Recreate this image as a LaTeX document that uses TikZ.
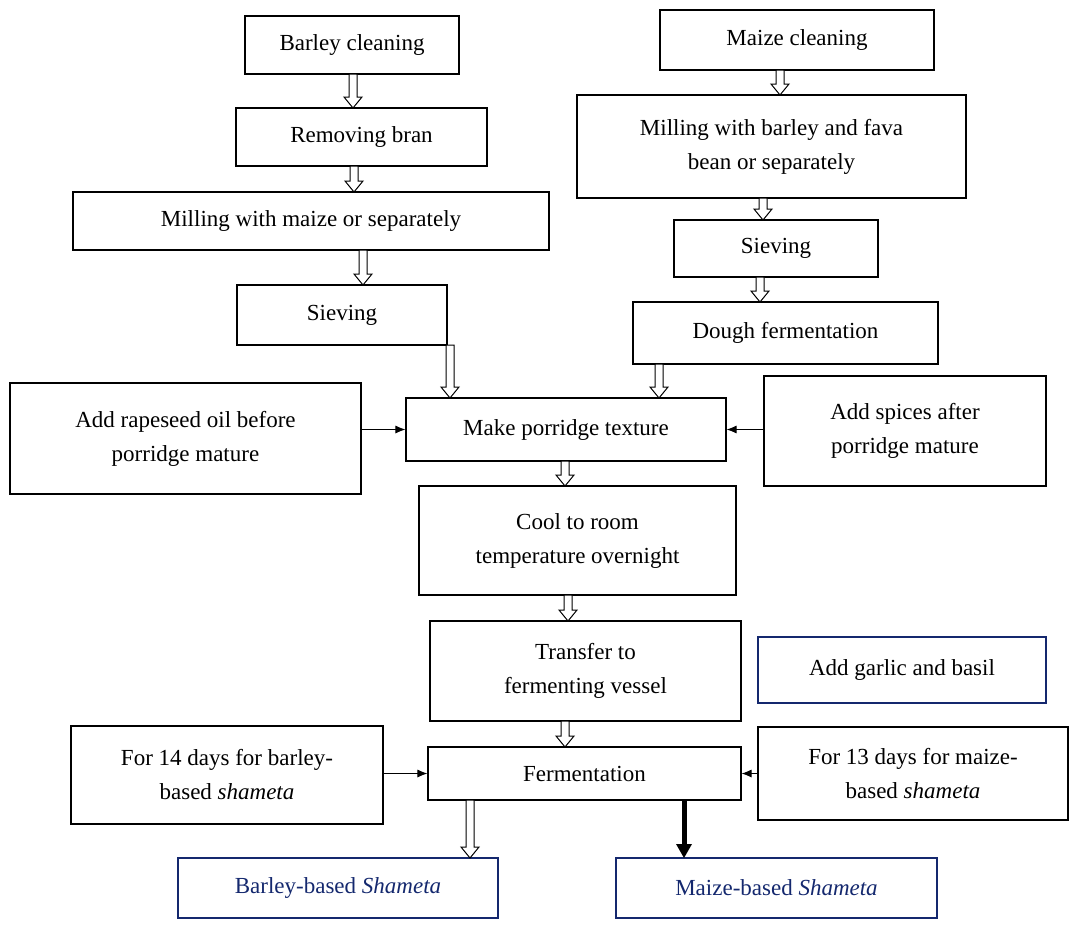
\documentclass[tikz,border=0pt]{standalone}
\usepackage{fontspec}
\usetikzlibrary{arrows.meta}
\setmainfont{Liberation Serif}
\definecolor{navy}{RGB}{20,40,110}
\begin{document}
\begin{tikzpicture}[x=1pt,y=-1pt,
 box/.style={draw,line width=1.1pt,align=center,font=\fontsize{23}{34}\selectfont},
 nbox/.style={box,draw=navy,line width=1.5pt},
 sa/.style={-{Latex[length=10pt,width=8pt]},line width=1pt}]
\useasboundingbox (0,0) rectangle (1087,943);
\newcommand\mybx[6]{\node[#6,minimum width=#3-#1,minimum height=#4-#2] (#5) at ({(#1+#3)/2},{(#2+#4)/2})}
\mybx{245}{16}{459}{74}{bc}{box}{Barley cleaning};
\mybx{236}{108}{487}{166}{rb}{box}{Removing bran};
\mybx{73}{192}{549}{250}{mm}{box}{Milling with maize or separately};
\mybx{237}{285}{447}{345}{sl}{box}{Sieving};
\mybx{660}{10}{934}{70}{mc}{box}{Maize cleaning};
\mybx{577}{95}{966}{198}{mb}{box}{Milling with barley and fava\\bean or separately};
\mybx{674}{220}{878}{277}{sr}{box}{Sieving};
\mybx{633}{302}{938}{364}{df}{box}{Dough fermentation};
\mybx{10}{383}{361}{494}{ar}{box}{Add rapeseed oil before\\porridge mature};
\mybx{406}{398}{726}{461}{mp}{box}{Make porridge texture};
\mybx{764}{376}{1046}{486}{as}{box}{Add spices after\\porridge mature};
\mybx{419}{486}{736}{595}{cr}{box}{Cool to room\\temperature overnight};
\mybx{430}{621}{741}{721}{tf}{box}{Transfer to\\fermenting vessel};
\mybx{758}{637}{1046}{703}{ag}{nbox}{Add garlic and basil};
\mybx{71}{726}{383}{824}{f14}{box}{For 14 days for barley-\\based \textit{shameta}};
\mybx{428}{747}{741}{800}{fe}{box}{Fermentation};
\mybx{758}{727}{1068}{820}{f13}{box}{For 13 days for maize-\\based \textit{shameta}};
\mybx{178}{858}{498}{918}{bs}{nbox}{\textcolor{navy}{Barley-based \textit{Shameta}}};
\mybx{616}{858}{937}{918}{ms}{nbox}{\textcolor{navy}{Maize-based \textit{Shameta}}};
\newcommand\harr[3]{\draw[line width=1pt,fill=white] (#1-4,#2) -- (#1+4,#2) -- (#1+4,#3-11) -- (#1+9,#3-11) -- (#1,#3) -- (#1-9,#3-11) -- (#1-4,#3-11) -- cycle;}
\harr{353}{74}{108}\harr{354}{166}{192}\harr{363}{250}{285}\harr{450}{345}{398}
\harr{780}{70}{95}\harr{763}{198}{220}\harr{760}{277}{302}\harr{659}{364}{398}
\harr{565}{461}{486}\harr{568}{595}{621}\harr{565}{721}{747}\harr{470}{800}{858}
\draw[line width=5pt] (684,800) -- (684,846);
\fill (676,844) -- (692,844) -- (684,858) -- cycle;
\draw[sa] (ar.east|-mp) -- (mp.west);
\draw[sa] (as.west|-mp) -- (mp.east);
\draw[sa] (f14.east|-fe) -- (fe.west);
\draw[sa] (f13.west|-fe) -- (fe.east);
\end{tikzpicture}
\end{document}
